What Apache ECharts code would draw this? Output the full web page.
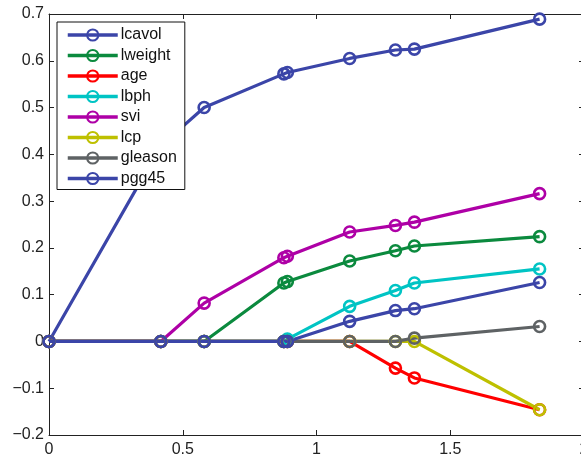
<!DOCTYPE html>
<html>
<head>
<meta charset="utf-8">
<script src="https://cdn.jsdelivr.net/npm/echarts@6/dist/echarts.min.js"></script>
<style>
  html, body { margin: 0; padding: 0; background: #fff; }
  #chart { width: 581px; height: 459px; }
</style>
</head>
<body>
<div id="chart"></div>
<script>
// knots of the path (L1 norm of coefficients)
var steps = [0, 0.418, 0.580, 0.878, 0.891, 1.124, 1.295, 1.366, 1.834];

var lcavol  = [0, 0.418, 0.500, 0.572, 0.575, 0.605, 0.623, 0.625, 0.689];
var lweight = [0, 0, 0, 0.125, 0.128, 0.172, 0.194, 0.204, 0.224];
var age     = [0, 0, 0, 0, 0, 0, -0.057, -0.078, -0.146];
var lbph    = [0, 0, 0, 0, 0.005, 0.075, 0.109, 0.125, 0.155];
var svi     = [0, 0, 0.082, 0.179, 0.182, 0.234, 0.248, 0.255, 0.316];
var lcp     = [0, 0, 0, 0, 0, 0, 0, 0, -0.146];
var gleason = [0, 0, 0, 0, 0, 0, 0, 0.007, 0.032];
var pgg45   = [0, 0, 0, 0, 0, 0.043, 0.066, 0.070, 0.126];

var names = ["lcavol", "lweight", "age", "lbph", "svi", "lcp", "gleason", "pgg45"];
var values = [lcavol, lweight, age, lbph, svi, lcp, gleason, pgg45];
var colors = ["#3B45A8", "#0B8A3E", "#FF0000", "#00C4C4", "#AE00A6", "#BEC000", "#5E6264", "#3B45A8"];

function fmt(v) {
  return String(Math.round(v * 10) / 10).replace("-", "\u2212");
}

var series = names.map(function (n, i) {
  return {
    name: n,
    type: "line",
    data: steps.map(function (x, j) { return [x, values[i][j]]; }),
    symbol: "circle",
    symbolSize: 11,
    color: colors[i],
    lineStyle: { color: colors[i], width: 3.2 },
    itemStyle: { color: "rgba(255,255,255,0)", borderColor: colors[i], borderWidth: 2.6 },
    emphasis: { disabled: true }
  };
});

var axisLine = { show: true, onZero: false, lineStyle: { color: "#222", width: 1 } };
var tick = { show: true, inside: true, length: 5, lineStyle: { color: "#222" } };
var labelFont = { color: "#222", fontSize: 16, fontFamily: "Liberation Sans, Arial, sans-serif" };

var chart = echarts.init(document.getElementById("chart"));
chart.setOption({
  animation: false,
  backgroundColor: "#fff",
  grid: { left: 49, top: 14, width: 535, height: 421, outerBoundsMode: "none", containLabel: false },
  legend: {
    orient: "vertical",
    left: 57,
    top: 22,
    data: names,
    itemWidth: 50,
    itemHeight: 14,
    itemGap: 4.5,
    padding: [5, 8, 3, 9],
    backgroundColor: "#fff",
    borderColor: "#111",
    borderWidth: 1,
    borderRadius: 0,
    lineStyle: { width: 3.5 },
    textStyle: { color: "#111", fontSize: 16, fontFamily: "Liberation Sans, Arial, sans-serif", padding: [0, 0, 0, -2] }
  },
  xAxis: [
    {
      type: "value", position: "bottom", min: 0, max: 2, interval: 0.5,
      axisLine: axisLine, axisTick: tick,
      axisLabel: Object.assign({ margin: 7, formatter: fmt }, labelFont),
      splitLine: { show: false }
    },
    {
      type: "value", position: "top", min: 0, max: 2, interval: 0.5,
      axisLine: axisLine, axisTick: tick,
      axisLabel: { show: false },
      splitLine: { show: false }
    }
  ],
  yAxis: [
    {
      type: "value", position: "left", min: -0.2, max: 0.7, interval: 0.1,
      axisLine: axisLine, axisTick: tick,
      axisLabel: Object.assign({ margin: 5, formatter: fmt }, labelFont),
      splitLine: { show: false }
    },
    {
      type: "value", position: "right", min: -0.2, max: 0.7, interval: 0.1,
      axisLine: axisLine, axisTick: tick,
      axisLabel: { show: false },
      splitLine: { show: false }
    }
  ],
  series: series
});
</script>
</body>
</html>
